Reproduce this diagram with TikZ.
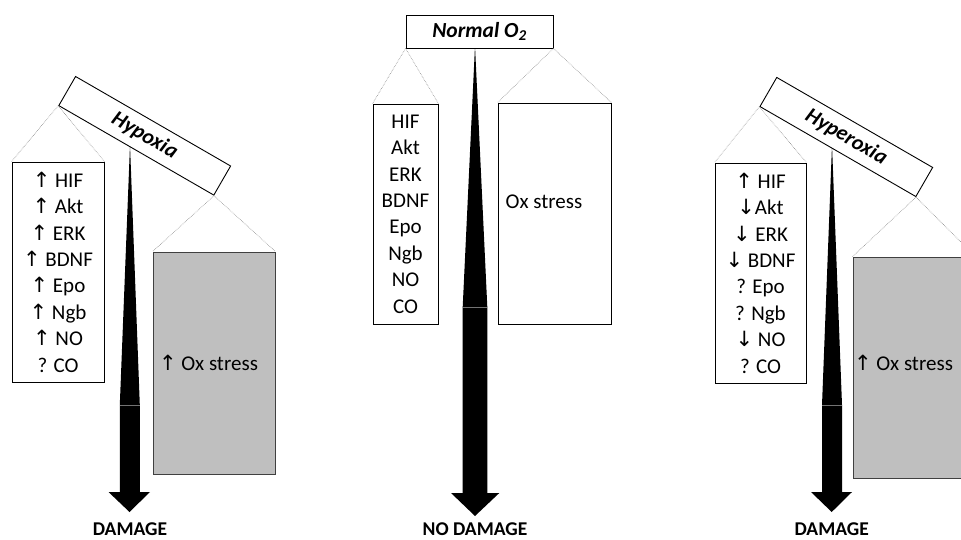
\documentclass[tikz,border=0pt]{standalone}
\usepackage{fontspec}
\setmainfont{Carlito}
\newfontfamily\arrfont{DejaVu Sans}
\newcommand\myup{{\arrfont ↑}}
\newcommand\mydn{{\arrfont ↓}}
\tikzset{
  listbox/.style={draw=black, line width=0.9pt, fill=white, minimum height=220pt, align=center, inner sep=0pt, font=\fontsize{21}{26.4}\selectfont},
  graybox/.style={draw=black!75, line width=0.9pt, fill=black!25, inner sep=0pt},
  whitebox/.style={draw=black, line width=0.9pt, fill=white, inner sep=0pt},
  titlebox/.style={draw=black, line width=0.9pt, fill=white, inner sep=0pt, minimum height=33.6pt, font=\fontsize{21.5}{24}\selectfont\bfseries\itshape},
  oxtext/.style={inner sep=0pt, font=\fontsize{21}{24}\selectfont},
  result/.style={inner sep=0pt, anchor=base, font=\fontsize{19.5}{22}\selectfont\bfseries},
  dotline/.style={draw=black!45, line width=0.6pt, densely dotted},
  bar/.style={fill=black},
  seam/.style={draw=black!55, line width=0.5pt}
}
\begin{document}
\begin{tikzpicture}[x=1pt,y=-1pt]
\useasboundingbox (0,0) rectangle (961,540);
\clip (0,0) rectangle (961,540);
\fill[white] (0,0) rectangle (961,540);

% ---------- Hypoxia ----------
\coordinate (P1) at (130,145);
\fill[bar] (P1) -- (139.8,405) -- (139.8,492) -- (150,492) -- (129.5,512) -- (108.5,492) -- (119.8,492) -- (119.8,405) -- cycle;
\draw[seam] (119.8,405) -- (139.8,405);
\node[listbox, minimum width=92pt] (L1) at (58,272)
  {\myup\ HIF\\ \myup\ Akt\\ \myup\ ERK\\ \myup\ BDNF\\ \myup\ Epo\\ \myup\ Ngb\\ \myup\ NO\\ ? CO};
\node[graybox, minimum width=122pt, minimum height=222pt] (R1) at (214,363) {};
\node[oxtext] (X1) at (208.5,363) {\myup\ Ox stress};
\node[titlebox, rotate=-30, minimum width=179pt] (T1) at (144.7,135.8) {Hypoxia};
\draw[dotline] (T1.south west) -- (L1.north west);
\draw[dotline] (T1.south west) -- (L1.north east);
\draw[dotline] (T1.south east) -- (R1.north west);
\draw[dotline] (T1.south east) -- (R1.north east);
\node[result] (D1) at (130,535.5) {DAMAGE};

% ---------- Normal O2 ----------
\coordinate (P2) at (475,46);
\fill[bar] (P2) -- (487.3,307) -- (487.3,493) -- (499.3,493) -- (475,516) -- (451,493) -- (462.7,493) -- (462.7,307) -- cycle;
\draw[seam] (462.7,307) -- (487.3,307);
\node[listbox, minimum width=65pt] (L2) at (405.5,214)
  {HIF\\ Akt\\ ERK\\ BDNF\\ Epo\\ Ngb\\ NO\\ CO};
\node[whitebox, minimum width=113pt, minimum height=221pt] (R2) at (554.5,213.5) {};
\node[oxtext] (X2) at (544,201.7) {Ox stress};
\node[titlebox, minimum width=147pt, minimum height=33pt] (T2) at (479.5,31.5) {Normal O\textsubscript{2}};
\draw[dotline] (T2.south west) -- (L2.north west);
\draw[dotline] (T2.south west) -- (L2.north east);
\draw[dotline] (T2.south east) -- (R2.north west);
\draw[dotline] (T2.south east) -- (R2.north east);
\node[result] (D2) at (475,535.5) {NO DAMAGE};

% ---------- Hyperoxia ----------
\coordinate (P3) at (832,145);
\fill[bar] (P3) -- (842,405) -- (842,492) -- (852,492) -- (831.7,512) -- (811,492) -- (822,492) -- (822,405) -- cycle;
\draw[seam] (822,405) -- (842,405);
\node[listbox, minimum width=91pt] (L3) at (760.5,273)
  {\myup\ HIF\\ \mydn Akt\\ \mydn\ ERK\\ \mydn\ BDNF\\ ? Epo\\ ? Ngb\\ \mydn\ NO\\ ? CO};
\node[graybox, minimum width=122pt, minimum height=221pt] (R3) at (914,367.5) {};
\node[oxtext] (X3) at (903.5,363) {\myup\ Ox stress};
\node[titlebox, rotate=-30, minimum width=180pt] (T3) at (846.3,137) {Hyperoxia};
\draw[dotline] (T3.south west) -- (L3.north west);
\draw[dotline] (T3.south west) -- (L3.north east);
\draw[dotline] (T3.south east) -- (R3.north west);
\draw[dotline] (T3.south east) -- (R3.north east);
\node[result] (D3) at (831.7,535.5) {DAMAGE};
\end{tikzpicture}
\end{document}
